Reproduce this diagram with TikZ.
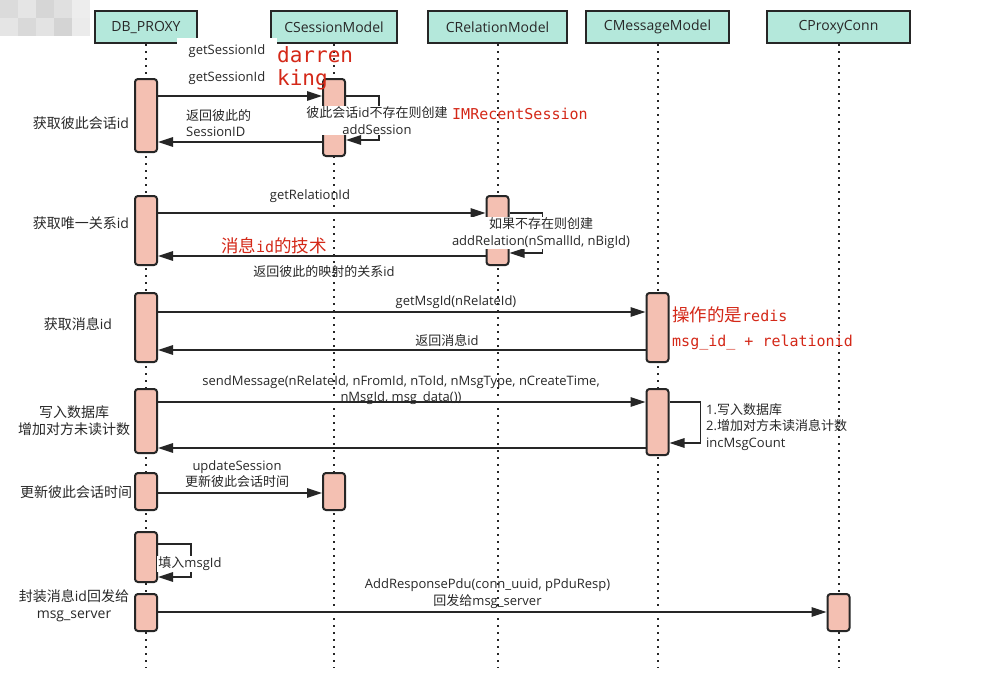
\documentclass[tikz,border=0pt]{standalone}
\usepackage{fontspec}
\setmainfont{Open Sans}
\newfontfamily\zhfont{Noto Sans CJK SC}
\newfontfamily\monof{DejaVu Sans Mono}
\newcommand\zh[1]{{\zhfont #1}}
\usetikzlibrary{arrows.meta}
\definecolor{hdrfill}{RGB}{180,232,219}
\definecolor{actfill}{RGB}{244,192,178}
\definecolor{linec}{RGB}{38,38,38}
\definecolor{redc}{RGB}{212,40,24}
\definecolor{txt}{RGB}{40,40,40}
\begin{document}
\begin{tikzpicture}[x=1pt,y=-1pt,
  hdr/.style={draw=linec, line width=2pt, fill=hdrfill, minimum height=32pt, inner sep=0pt, font=\fontsize{14}{16}\selectfont, text=txt},
  act/.style={draw=linec, line width=2pt, fill=actfill, rounded corners=3pt, minimum width=22pt, inner sep=0pt},
  life/.style={draw=linec, line width=2pt, dash pattern=on 2.4pt off 4.6pt},
  msg/.style={draw=linec, line width=1.6pt, -{Triangle[length=15pt,width=9.5pt]}},
  lbl/.style={font=\fontsize{13}{16.5}\selectfont, text=txt, inner sep=1pt, align=center},
  side/.style={font=\fontsize{14}{17}\selectfont, text=txt, inner sep=0pt, align=center},
  redtxt/.style={text=redc, inner sep=0pt, anchor=base west},
]
\useasboundingbox (0,0) rectangle (1001,681);
\fill[white] (0,0) rectangle (1001,681);
% blurred corner
\foreach \x/\y/\g in {0/0/86,18/0/90,36/0/84,54/0/88,72/0/93,0/18/90,18/18/85,36/18/89,54/18/83,72/18/92}
  \fill[black!\the\numexpr100-\g\relax] (\x,\y) rectangle ++(18,18);

% headers
\node[hdr, minimum width=102pt] (h1) at (146,27) {DB\_PROXY};
\node[hdr, minimum width=126pt] (h2) at (334,27) {CSessionModel};
\node[hdr, minimum width=139pt] (h3) at (497.5,27) {CRelationModel};
\node[hdr, minimum width=143pt] (h4) at (657.5,27) {CMessageModel};
\node[hdr, minimum width=143pt] (h5) at (838.5,27) {CProxyConn};

% lifelines
\coordinate (e1) at (146,668);
\coordinate (e2) at (334,668);
\coordinate (e3) at (497.5,668);
\coordinate (e4) at (657.5,668);
\coordinate (e5) at (838.5,668);
\draw[life] (h1.south) -- (e1);
\draw[life] (h2.south) -- (e2);
\draw[life] (h3.south) -- (e3);
\draw[life] (h4.south) -- (e4);
\draw[life] (h5.south) -- (e5);

% activations
\node[act, minimum height=73pt] (a1) at (146,115.5) {};
\node[act, minimum height=69pt] (a2) at (146,230.5) {};
\node[act, minimum height=69pt] (a3) at (146,327.5) {};
\node[act, minimum height=64pt] (a4) at (146,421) {};
\node[act, minimum height=37pt] (a5) at (146,491.5) {};
\node[act, minimum height=50pt] (a6) at (146,557) {};
\node[act, minimum height=37pt] (a7) at (146,612.5) {};
\node[act, minimum height=77pt] (s1) at (334,117.5) {};
\node[act, minimum height=37pt] (s2) at (334,491.5) {};
\node[act, minimum height=69pt] (r1) at (497.5,230.5) {};
\node[act, minimum height=69pt] (m1) at (657.5,327.5) {};
\node[act, minimum height=66pt] (m2) at (657.5,422) {};
\node[act, minimum height=37pt] (p1) at (838.5,612.5) {};

% messages
\draw[msg] (a1.east |- 0,96) -- (s1.west |- 0,96);
\draw[msg] (s1.east |- 0,96) -- ++(33,0) |- (s1.east |- 0,140);
\draw[msg] (s1.west |- 0,142) -- (a1.east |- 0,142);
\draw[msg] (a2.east |- 0,213) -- (r1.west |- 0,213);
\draw[msg] (r1.east |- 0,213) -- ++(33,0) |- (r1.east |- 0,253);
\draw[msg] (r1.west |- 0,256) -- (a2.east |- 0,256);
\draw[msg] (a3.east |- 0,312) -- (m1.west |- 0,312);
\draw[msg] (m1.west |- 0,350) -- (a3.east |- 0,350);
\draw[msg] (a4.east |- 0,402) -- (m2.west |- 0,402);
\draw[msg] (m2.east |- 0,402) -- ++(31,0) |- (m2.east |- 0,443);
\draw[msg] (m2.west |- 0,448) -- (a4.east |- 0,448);
\draw[msg] (a5.east |- 0,493) -- (s2.west |- 0,493);
\draw[msg] (a6.east |- 0,544) -- ++(33,0) |- (a6.east |- 0,577);
\draw[msg] (a7.east |- 0,612) -- (p1.west |- 0,612);

% labels
\node[lbl, fill=white, minimum width=100pt, minimum height=26pt] (t0) at (227,51) {getSessionId};
\node[lbl] (t1) at (227,78) {getSessionId};
\node[lbl, fill=white] (t2) at (377,120.5) {\zh{彼此会话}id\zh{不存在则创建}\\addSession};
\node[lbl, anchor=west, align=left] (t3) at (185,123) {\zh{返回彼此的}\\SessionID};
\node[lbl] (t4) at (310,196) {getRelationId};
\node[lbl, fill=white] (t5) at (541,233) {\zh{如果不存在则创建}\\addRelation(nSmallId, nBigId)};
\node[lbl] (t6) at (324,272) {\zh{返回彼此的映射的关系}id};
\node[lbl] (t7) at (456,302) {getMsgId(nRelateId)};
\node[lbl] (t8) at (447,340) {\zh{返回消息}id};
\node[lbl] (t9) at (401,390) {sendMessage(nRelateId, nFromId, nToId, nMsgType, nCreateTime,\\nMsgId, msg\_data())};
\node[lbl, anchor=west, align=left] (t10) at (705,427) {1.\zh{写入数据库}\\2.\zh{增加对方未读消息计数}\\incMsgCount};
\node[lbl] (t11) at (237,474) {updateSession\\\zh{更新彼此会话时间}};
\node[lbl, fill=white] (t12) at (190,564) {\zh{填入}msgId};
\node[lbl] (t13) at (487.5,593.5) {AddResponsePdu(conn\_uuid, pPduResp)\\\zh{回发给}msg\_server};

% side labels
\node[side] (l1) at (81,123) {\zh{获取彼此会话}id};
\node[side] (l2) at (81,223) {\zh{获取唯一关系}id};
\node[side] (l3) at (78,324) {\zh{获取消息}id};
\node[side] (l4) at (74,420.5) {\zh{写入数据库}\\\zh{增加对方未读计数}};
\node[side] (l5) at (76,492) {\zh{更新彼此会话时间}};
\node[side] (l6) at (74,605.5) {\zh{封装消息}id\zh{回发给}\\msg\_server};

% red annotations
\node[redtxt, font=\monof\fontsize{21}{24}\selectfont] (n1) at (277,62) {darren};
\node[redtxt, font=\monof\fontsize{21}{24}\selectfont] (n2) at (277,85) {king};
\node[redtxt, font=\monof\fontsize{15}{18}\selectfont] (n3) at (452,119) {IMRecentSession};
\node[redtxt] (n4) at (221,252) {\zhfont\fontsize{17.5}{20}\selectfont 消息\monof\fontsize{15}{18}\selectfont id\zhfont\fontsize{17.5}{20}\selectfont 的技术};
\node[redtxt] (n5) at (672,321) {\zhfont\fontsize{17.5}{20}\selectfont 操作的是\monof\fontsize{15}{18}\selectfont redis};
\node[redtxt, font=\monof\fontsize{15}{18}\selectfont] (n6) at (672,346) {msg\_id\_ + relationid};
\end{tikzpicture}
\end{document}
